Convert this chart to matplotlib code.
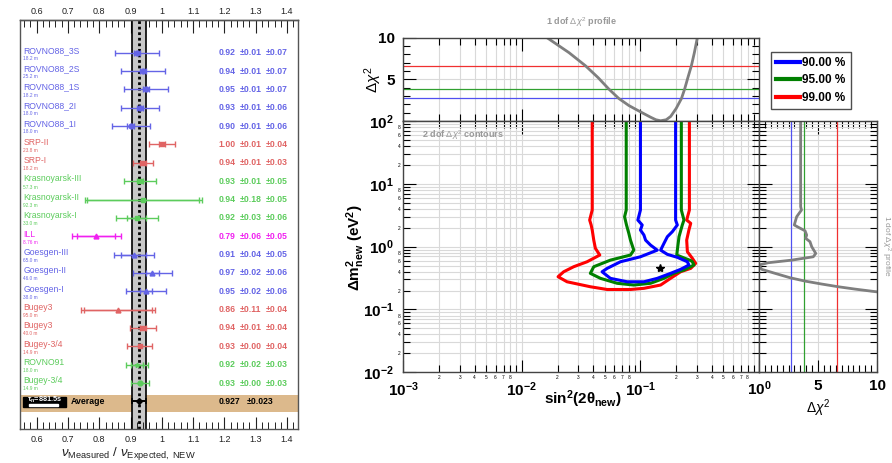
import matplotlib
matplotlib.use("Agg")
import matplotlib.pyplot as plt
from matplotlib.lines import Line2D
from matplotlib.patches import Rectangle
from matplotlib.ticker import FixedLocator, MultipleLocator
import numpy as np

plt.rcParams['font.family'] = ['Liberation Sans', 'DejaVu Sans']
plt.rcParams['mathtext.fontset'] = 'custom'
plt.rcParams['mathtext.rm'] = 'Liberation Sans'
plt.rcParams['mathtext.it'] = 'Liberation Sans:italic'
plt.rcParams['mathtext.bf'] = 'Liberation Sans:bold'

# ---- reactor ratio data ----
EXPERIMENTS = ["ROVNO88_3S", "ROVNO88_2S", "ROVNO88_1S", "ROVNO88_2I", "ROVNO88_1I",
               "SRP-II", "SRP-I", "Krasnoyarsk-III", "Krasnoyarsk-II", "Krasnoyarsk-I",
               "ILL", "Goesgen-III", "Goesgen-II", "Goesgen-I", "Bugey3", "Bugey3",
               "Bugey-3/4", "ROVNO91", "Bugey-3/4"]
DISTANCES = ["18.2 m", "25.2 m", "18.2 m", "18.0 m", "18.0 m", "23.8 m", "18.2 m",
             "57.3 m", "92.3 m", "33.0 m", "8.76 m", "65.0 m", "46.0 m", "38.0 m",
             "95.0 m", "40.0 m", "14.9 m", "18.0 m", "14.9 m"]
RATIOS = [0.92, 0.94, 0.95, 0.93, 0.90, 1.00, 0.94, 0.93, 0.94, 0.92,
          0.79, 0.91, 0.97, 0.95, 0.86, 0.94, 0.93, 0.92, 0.93]
STAT = [0.01, 0.01, 0.01, 0.01, 0.01, 0.01, 0.01, 0.01, 0.18, 0.03,
        0.06, 0.04, 0.02, 0.02, 0.11, 0.01, 0.00, 0.02, 0.00]
SYST = [0.07, 0.07, 0.07, 0.06, 0.06, 0.04, 0.03, 0.05, 0.05, 0.06,
        0.05, 0.05, 0.06, 0.06, 0.04, 0.04, 0.04, 0.03, 0.03]
GROUPS = ["blue"] * 5 + ["red"] * 2 + ["green"] * 3 + ["magenta"] + ["blue"] * 3 \
    + ["red"] * 3 + ["green"] * 2
MARKERS = ["o"] * 5 + ["s"] * 5 + ["^"] * 5 + ["s", "s", "*", "o"]
AVG_RATIO = 0.927
AVG_ERR = 0.023
TAU_N = 881.5

# ---- oscillation fit ----
CL_LABELS = ["90.00 %", "95.00 %", "99.00 %"]
CL_DCHI2_1DOF = [2.71, 3.84, 6.63]

S90 = [0.100, 0.100, 0.0951, 0.1035, 0.100, 0.107, 0.1105, 0.1216, 0.1387,
       0.100, 0.0679, 0.0524, 0.0475, 0.0558, 0.0773, 0.107, 0.1387, 0.1795,
       0.218, 0.2564, 0.2489, 0.2047, 0.1687, 0.148, 0.158, 0.1687, 0.1858,
       0.2047, 0.198, 0.198, 0.198]
DM90 = [100, 3.83, 2.65, 2.21, 1.84, 1.53, 1.27, 1.06, 0.88,
        0.69, 0.575, 0.451, 0.398, 0.313, 0.276, 0.276, 0.313, 0.376,
        0.435, 0.51, 0.575, 0.676, 0.754, 0.88, 1.13, 1.44, 1.73,
        2.21, 2.65, 3.83, 100]

S95 = [0.0759, 0.0759, 0.0735, 0.0763, 0.0798, 0.0824, 0.0879, 0.0824,
       0.0558, 0.0404, 0.0378, 0.046, 0.0637, 0.0879, 0.1216, 0.158, 0.1914,
       0.2328, 0.2825, 0.2742, 0.2655, 0.2025, 0.2047, 0.2115, 0.2254, 0.2328,
       0.2213, 0.2213]
DM95 = [100, 3.83, 2.99, 2.21, 1.63, 1.27, 0.88, 0.735,
        0.61, 0.479, 0.376, 0.313, 0.261, 0.245, 0.261, 0.313, 0.376,
        0.424, 0.51, 0.575, 0.60, 0.735, 0.88, 1.44, 2.21, 2.65,
        3.83, 100]

S99 = [0.0392, 0.0392, 0.0373, 0.0384, 0.0392, 0.0404, 0.0417, 0.0454,
       0.0355, 0.02735, 0.02252, 0.0202, 0.02404, 0.0378, 0.0524, 0.0824,
       0.107, 0.148, 0.1795, 0.218, 0.2655, 0.2924, 0.2742, 0.2489, 0.2455,
       0.2564, 0.2655, 0.2455, 0.2588, 0.2588]
DM99 = [100, 3.83, 2.65, 2.21, 1.84, 1.27, 0.94, 0.735,
        0.575, 0.479, 0.398, 0.332, 0.276, 0.230, 0.208, 0.208,
        0.217, 0.245, 0.313, 0.398, 0.451, 0.542, 0.652, 0.83, 1.27,
        1.84, 2.35, 2.65, 3.83, 100]

BEST_S, BEST_DM = 0.145, 0.46

# 1 dof profile in sin^2(2theta)
PROF_S = [0.0140, 0.0163, 0.025, 0.0344, 0.044, 0.0541, 0.0656, 0.080, 0.100,
          0.122, 0.135, 0.148, 0.165, 0.180, 0.200, 0.222, 0.236, 0.250,
          0.269, 0.285, 0.302, 0.31]
PROF_S_DCHI2 = [11.0, 10.0, 8.2, 6.63, 5.2, 3.84, 2.71, 1.85, 1.1,
                0.45, 0.15, 0.03, 0.15, 0.55, 1.5, 2.71, 3.84, 5.1,
                6.63, 8.2, 10.0, 11.0]

# 1 dof profile in delta m^2
PROF_DM_DCHI2 = [3.53, 3.53, 3.60, 3.19, 2.99, 3.34, 3.90, 4.04, 3.95, 4.32,
                 4.47, 4.81, 4.60, 2.77, 0.79, 0.0, 0.23, 1.36, 2.63, 3.90,
                 5.31, 6.72, 8.14, 9.97]
PROF_DM = [100, 4.32, 3.83, 2.99, 2.21, 2.03, 1.79, 1.53, 1.36, 1.20,
           0.995, 0.78, 0.69, 0.61, 0.555, 0.51, 0.435, 0.376, 0.32, 0.283,
           0.254, 0.23, 0.211, 0.191]

COLORS = {"blue": "#6464e6", "red": "#e06464", "green": "#5ccc5c", "magenta": "#f020f0"}
CL_COLORS = ["#0000ff", "#008000", "#ff0000"]
LINE_COLORS = ["#5050f0", "#30a030", "#f03030"]
GRID = "#d9d9d9"
W, H = 892, 463


def rect(x0, y0, x1, y1):
    return [x0 / W, 1 - y1 / H, (x1 - x0) / W, (y1 - y0) / H]


fig = plt.figure(figsize=(W / 100, H / 100), dpi=100)

# ======== left: ratio plot ========
ax0 = fig.add_axes(rect(20, 20, 298, 429.3))
ax0.set_xlim(0.5467, 1.435)
ax0.set_ylim(20.52, -1.78)
n = len(EXPERIMENTS)
rows = np.arange(n)

ax0.axhspan(18.65, 19.56, color="#dcb98c", zorder=0.5, lw=0)
ax0.axvspan(AVG_RATIO - AVG_ERR, AVG_RATIO + AVG_ERR, color="#c8c8c8", zorder=1, lw=0)
ax0.axvline(AVG_RATIO - AVG_ERR, color="k", lw=1.2, zorder=2)
ax0.axvline(AVG_RATIO + AVG_ERR, color="k", lw=1.2, zorder=2)
ax0.axvline(AVG_RATIO, color="k", lw=2.0, ls=(0, (1, 1)), zorder=2)

for i in rows:
    c = COLORS[GROUPS[i]]
    r, st, sy = RATIOS[i], STAT[i], SYST[i]
    tot = np.hypot(st, sy)
    ax0.errorbar(r, i, xerr=tot, fmt=MARKERS[i], color=c, ms=3.5, lw=1.0,
                 capsize=2.5, capthick=1.0, zorder=4)
    if st > 0:
        ax0.errorbar(r, i, xerr=st, fmt="none", color=c, lw=1.0,
                     capsize=2.0, capthick=1.0, zorder=4)
    ax0.text(0.557, i - 0.12, EXPERIMENTS[i], color=c, fontsize=6.2, va="center")
    ax0.text(0.557, i + 0.32, DISTANCES[i], color=c, fontsize=3.4, va="center")
    ax0.text(1.180, i, f"{r:.2f}", color=c, fontsize=6.2, weight="bold", va="center")
    ax0.text(1.2495, i, f"\u00b1{st:.2f}", color=c, fontsize=6.2, weight="bold", va="center")
    ax0.text(1.3316, i, f"\u00b1{sy:.2f}", color=c, fontsize=6.2, weight="bold", va="center")

# average row
ax0.errorbar(AVG_RATIO, n, xerr=AVG_ERR, fmt="D", color="k", ms=3, lw=1.4,
             capsize=2.5, capthick=1.2, zorder=4)
ax0.add_patch(Rectangle((0.5553, 18.75), 0.1373, 0.54, color="k", zorder=5))
ax0.add_patch(Rectangle((0.577, 19.12), 0.09, 0.12, color="white", zorder=6))
ax0.text(0.624, 18.93, r"$\mathbf{\tau_n}$=" + f"{TAU_N:.1f}s",
         color="white", fontsize=5.3, weight="bold", ha="center", va="center", zorder=7)
ax0.text(0.7086, n, "Average", fontsize=6.3, weight="bold", va="center")
ax0.text(1.180, n, f"{AVG_RATIO:.3f}", fontsize=6.2, weight="bold", va="center")
ax0.text(1.2706, n, f"\u00b1{AVG_ERR:.3f}", fontsize=6.2, weight="bold", va="center")

ratio_ticks = np.round(np.arange(0.6, 1.41, 0.1), 2)
ratio_labels = [f"{v:g}" for v in ratio_ticks]
ax0.xaxis.set_major_locator(FixedLocator(ratio_ticks))
ax0.xaxis.set_minor_locator(MultipleLocator(0.02))
ax0.set_xticklabels(ratio_labels)
ax0.tick_params(axis="x", which="both", direction="in", top=False, bottom=True,
                labelsize=6.5, colors="#222222")
ax0.tick_params(axis="x", which="major", length=9, width=0.8, pad=4)
ax0.tick_params(axis="x", which="minor", length=5, width=0.7)
ax0.set_yticks([])

# same scale repeated along the top edge
sec = ax0.secondary_xaxis("top")
sec.xaxis.set_major_locator(FixedLocator(ratio_ticks))
sec.xaxis.set_minor_locator(MultipleLocator(0.02))
sec.set_xticklabels(ratio_labels)
sec.tick_params(axis="x", which="both", direction="in", labelsize=6.5, colors="#222222")
sec.tick_params(axis="x", which="major", length=9, width=0.8, pad=3)
sec.tick_params(axis="x", which="minor", length=5, width=0.7)
for sp in list(ax0.spines.values()) + list(sec.spines.values()):
    sp.set_color("#555555")
    sp.set_linewidth(1.0)

fig.text(128 / W, 1 - 453 / H,
         r"$\nu_{\mathrm{Measured}}$ / $\nu_{\mathrm{Expected,\ NEW}}$",
         fontsize=9.5, ha="center", va="center", color="#222222")

# ======== right: oscillation analysis ========
ax_top = fig.add_axes(rect(403.3, 37.7, 759, 121))
ax_m = fig.add_axes(rect(403.3, 121, 759, 372.3), sharex=ax_top)
ax_r = fig.add_axes(rect(759, 121, 877, 372.3), sharey=ax_m)

ax_m.set_xscale("log")
ax_m.set_yscale("log")
ax_m.set_xlim(1e-3, 1)
ax_m.set_ylim(1e-2, 1e2)
ax_top.set_ylim(0, 10)
ax_r.set_xlim(0, 10)

for ax in (ax_top, ax_m, ax_r):
    ax.set_axisbelow(True)
    for sp in ax.spines.values():
        sp.set_color("#444444")
        sp.set_linewidth(1.0)
    ax.tick_params(which="both", direction="in", top=True, right=True, width=0.8)
    ax.tick_params(which="major", length=9)
    ax.tick_params(which="minor", length=5)

# main contour panel
ax_m.grid(True, which="both", color=GRID, lw=0.8)
for s, dm, c in [(S99, DM99, CL_COLORS[2]), (S95, DM95, CL_COLORS[1]), (S90, DM90, CL_COLORS[0])]:
    ax_m.plot(s, dm, color=c, lw=2.2, solid_joinstyle="round")
ax_m.plot(BEST_S, BEST_DM, marker="*", color="k", ms=6, ls="none")
ax_m.text(0.052, 0.944, r"2 dof $\Delta\chi^2$ contours", transform=ax_m.transAxes,
          fontsize=6.5, weight="bold", color="#999999", va="center")

x_major = [1e-3, 1e-2, 1e-1]
ax_m.xaxis.set_major_locator(FixedLocator(x_major))
ax_m.xaxis.set_minor_locator(FixedLocator([m * 10.0 ** e for e in (-3, -2, -1) for m in range(2, 10)]))
ax_m.set_xticklabels([r"$\mathbf{10^{-3}}$", r"$\mathbf{10^{-2}}$", r"$\mathbf{10^{-1}}$"])
ax_m.set_xticklabels([str(m) if m < 9 else "" for e in (-3, -2, -1) for m in range(2, 10)], minor=True)
y_major = [1e-2, 1e-1, 1e0, 1e1, 1e2]
ax_m.yaxis.set_major_locator(FixedLocator(y_major))
ax_m.yaxis.set_minor_locator(FixedLocator([m * 10.0 ** e for e in (-2, -1, 0, 1) for m in range(2, 10)]))
ax_m.set_yticklabels([r"$\mathbf{10^{-2}}$", r"$\mathbf{10^{-1}}$", r"$\mathbf{10^{0}}$",
                      r"$\mathbf{10^{1}}$", r"$\mathbf{10^{2}}$"])
ax_m.set_yticklabels([str(m) if m in (2, 4, 6, 8) else "" for e in (-2, -1, 0, 1) for m in range(2, 10)],
                     minor=True)
ax_m.tick_params(which="major", labelsize=11, pad=7)
ax_m.tick_params(which="minor", labelsize=3.5, pad=2)
ax_m.tick_params(axis="x", which="major", pad=6)
fig.text(356 / W, 1 - 248 / H, r"$\mathbf{\Delta m^2_{new}\ (eV^2)}$", rotation=90,
         fontsize=11, ha="center", va="center")
fig.text(583 / W, 1 - 399 / H, r"$\mathbf{sin^2(2\theta_{new})}$", fontsize=11,
         ha="center", va="center")

# top profile panel
ax_top.grid(True, axis="x", which="both", color=GRID, lw=0.8)
ax_top.axhline(5, color=GRID, lw=0.8, zorder=0)
for v, c in zip(CL_DCHI2_1DOF, LINE_COLORS):
    ax_top.axhline(v, color=c, lw=0.9)
ax_top.plot(PROF_S, PROF_S_DCHI2, color="#7f7f7f", lw=2.0)
ax_top.yaxis.set_major_locator(FixedLocator([5, 10]))
ax_top.yaxis.set_minor_locator(MultipleLocator(1))
ax_top.set_yticklabels(["5", "10"])
ax_top.tick_params(axis="y", which="major", labelsize=11, pad=6)
for t in ax_top.yaxis.get_ticklabels():
    t.set_fontweight("bold")
ax_top.tick_params(axis="x", which="both", labelbottom=False, labeltop=False)
fig.text(373 / W, 1 - 80 / H, r"$\Delta\chi^2$", rotation=90, fontsize=11,
         ha="center", va="center")
ax_top.set_title(r"1 dof $\Delta\chi^2$ profile", fontsize=6.5, weight="bold",
                 color="#999999", pad=9)

# right profile panel
ax_r.grid(True, axis="y", which="both", color=GRID, lw=0.8)
ax_r.axvline(5, color=GRID, lw=0.8, zorder=0)
for v, c in zip(CL_DCHI2_1DOF, LINE_COLORS):
    ax_r.axvline(v, color=c, lw=0.9)
ax_r.plot(PROF_DM_DCHI2, PROF_DM, color="#7f7f7f", lw=2.0)
ax_r.xaxis.set_major_locator(FixedLocator([0, 5, 10]))
ax_r.xaxis.set_minor_locator(MultipleLocator(0.5))
ax_r.set_xticklabels([r"$\mathbf{10^{0}}$", "5", "10"])
ax_r.tick_params(axis="x", which="major", labelsize=11, pad=5)
for t in ax_r.xaxis.get_ticklabels():
    t.set_fontweight("bold")
ax_r.tick_params(axis="y", which="both", labelleft=False, labelright=False)
ax_r.set_xlabel(r"$\Delta\chi^2$", fontsize=10, labelpad=0)
fig.text(886 / W, 1 - 246 / H, r"1 dof $\Delta\chi^2$ profile", rotation=-90,
         fontsize=6, color="#999999", ha="center", va="center")

# confidence level legend
handles = [Line2D([0], [0], color=c, lw=3) for c in CL_COLORS]
leg = fig.legend(handles, CL_LABELS, loc="upper left",
                 bbox_to_anchor=(770.7 / W, 1 - 51.7 / H),
                 prop={"weight": "bold", "size": 8.5}, frameon=True, fancybox=False,
                 handlelength=2.0, handletextpad=0.2, borderpad=0.45,
                 labelspacing=0.45, borderaxespad=0)
leg.get_frame().set_edgecolor("#222222")
leg.get_frame().set_linewidth(1.0)

fig.savefig("out.png", dpi=100)
